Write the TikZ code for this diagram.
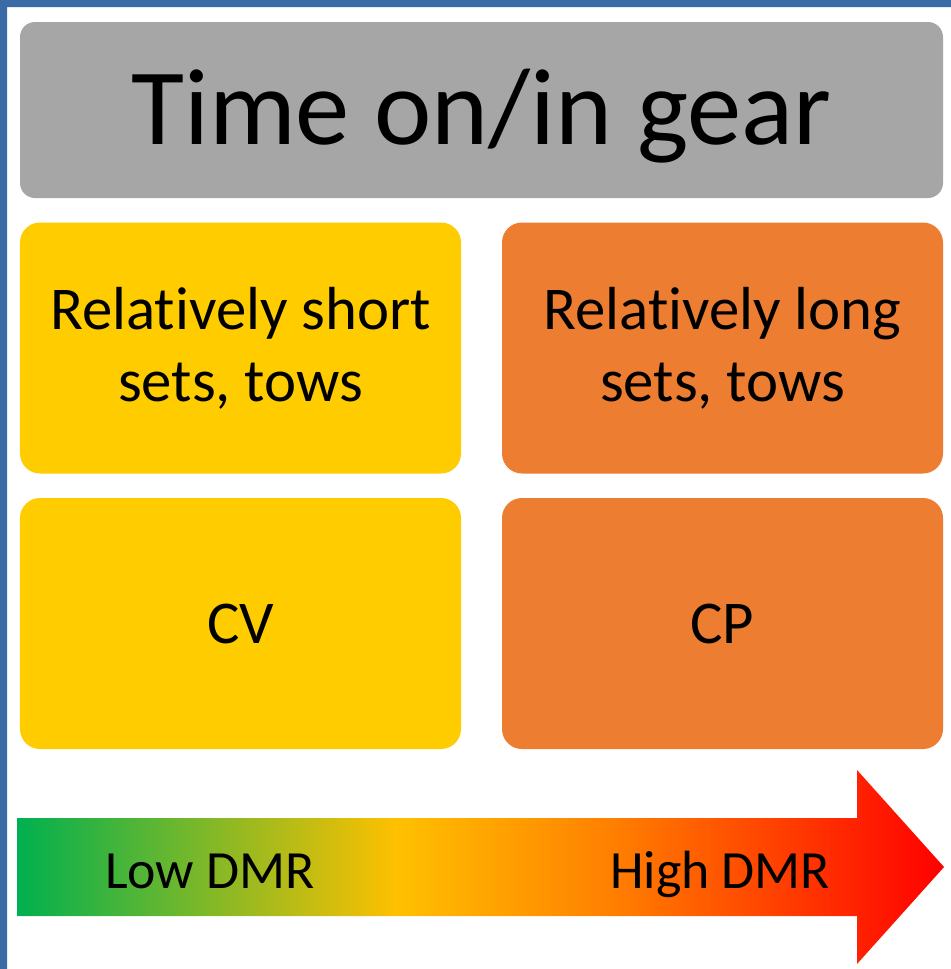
\documentclass[tikz,border=0pt]{standalone}
\usepackage{fontspec}
\setmainfont{Carlito}[Ligatures=NoCommon]
\definecolor{framebl}{RGB}{58,107,165}
\definecolor{geargray}{RGB}{166,166,166}
\definecolor{cvyellow}{RGB}{255,204,0}
\definecolor{cporange}{RGB}{237,125,49}
\definecolor{dmrgreen}{RGB}{0,176,80}
\definecolor{dmryellow}{RGB}{255,192,0}
\definecolor{dmrorange}{RGB}{255,128,0}
\definecolor{dmrred}{RGB}{255,0,0}
% the path box is the middle 25bp..75bp of the shading
\pgfdeclarehorizontalshading{dmr}{100bp}{color(0bp)=(dmrgreen); color(25bp)=(dmrgreen);
  color(45.5bp)=(dmryellow); color(57bp)=(dmrorange); color(75bp)=(dmrred); color(100bp)=(dmrred)}
\begin{document}
\begin{tikzpicture}[x=1bp, y=-1bp,
    box/.style={rounded corners=20bp, inner sep=0pt, minimum width=441bp,
      minimum height=251bp, align=center, font=\fontsize{61}{72}\selectfont},
    dmrlabel/.style={inner sep=0pt, font=\fontsize{54}{60}\selectfont}]
      \useasboundingbox (0,0) rectangle (951,969);
      \fill[white] (0,0) rectangle (951,969);
      \fill[framebl] (0,0) rectangle (951,7) (0,0) rectangle (7,969);
      \fill[rounded corners=15bp, geargray] (20,22) rectangle (943,198);
      \node[inner sep=0pt, font=\fontsize{109}{120}\selectfont, anchor=base] (gear) at (481.5,144) {Time on/in gear};
      \node[box, fill=cvyellow] (short) at (240.5,348) {Relatively short\\sets, tows};
      \node[box, fill=cporange] (long) at (722.5,348) {Relatively long\\sets, tows};
      \node[box, fill=cvyellow] (cv) at (240.5,623.5) {CV};
      \node[box, fill=cporange] (cp) at (722.5,623.5) {CP};
      \shade[shading=dmr] (17,818) -- (857,818) -- (857,770) -- (944,867)
        -- (857,964) -- (857,916) -- (17,916) -- cycle;
      \node[dmrlabel, anchor=base west] (low) at (105,888) {Low DMR};
      \node[dmrlabel, anchor=base west] (high) at (610,888) {High DMR};
    \end{tikzpicture}
\end{document}
